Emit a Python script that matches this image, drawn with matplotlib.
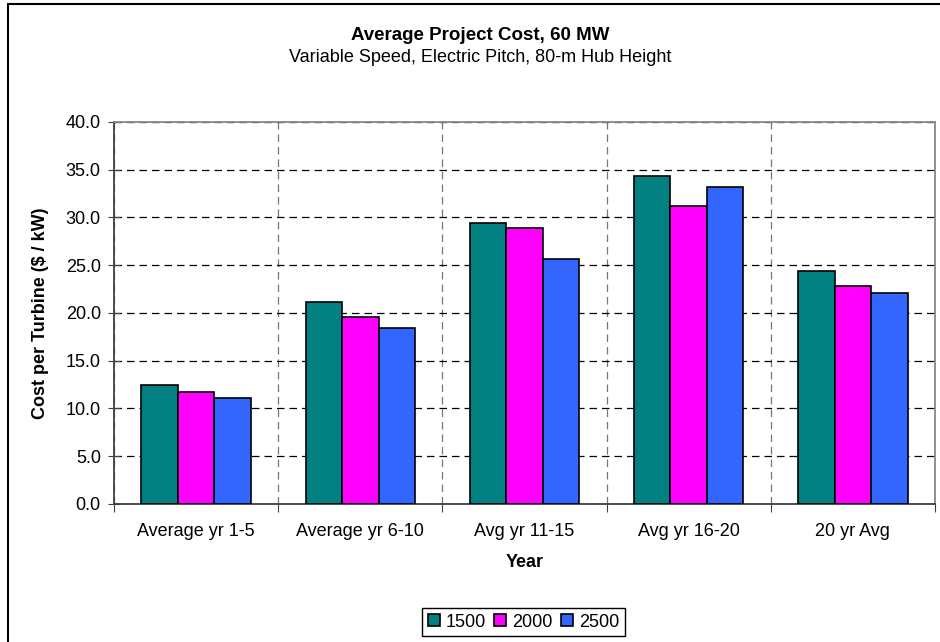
import numpy as np
import matplotlib
matplotlib.use('Agg')
import matplotlib.pyplot as plt
from matplotlib.patches import Rectangle

plt.rcParams['font.family'] = ['Liberation Sans', 'DejaVu Sans']

# Data
categories = ['Average yr 1-5', 'Average yr 6-10', 'Avg yr 11-15', 'Avg yr 16-20', '20 yr Avg']
series_names = ['1500', '2000', '2500']
cost_1500 = [12.5, 21.2, 29.4, 34.3, 24.4]
cost_2000 = [11.7, 19.6, 28.9, 31.2, 22.8]
cost_2500 = [11.1, 18.4, 25.6, 33.2, 22.1]
colors = ['#008080', '#FF00FF', '#3366FF']

fig = plt.figure(figsize=(9.4, 6.42), dpi=100)
ax = fig.add_axes([0.1213, 0.2150, 0.8734, 0.5950])

x = np.arange(len(categories))
w = 1 / 4.5
for i, (vals, name) in enumerate(zip([cost_1500, cost_2000, cost_2500], series_names)):
    ax.bar(x + (i - 1) * w, vals, width=w, color=colors[i], edgecolor='black',
           linewidth=1.2, label=name, zorder=3)

ax.set_xlim(-0.5, len(categories) - 0.5)
ax.set_ylim(0, 40)
ax.set_yticks(np.arange(0, 41, 5))
ax.set_yticklabels(['%.1f' % v for v in np.arange(0, 41, 5)])

# category boundaries as major ticks, labels at centres
ax.set_xticks(np.arange(-0.5, len(categories), 1))
ax.set_xticklabels([])
ax.set_xticks(x, minor=True)
ax.set_xticklabels(categories, minor=True)
ax.tick_params(axis='x', which='minor', length=0, pad=14, labelsize=13)
ax.tick_params(axis='x', which='major', direction='out', length=6, color='#404040')
ax.tick_params(axis='y', direction='inout', length=9, color='#404040', labelsize=13, pad=5)

ax.yaxis.grid(True, linestyle=(0, (6, 4)), color='black', linewidth=0.9, zorder=0)
ax.xaxis.grid(True, which='major', linestyle=(0, (6, 4)), color='#777777', linewidth=0.9, zorder=0)

for s in ['left', 'bottom']:
    ax.spines[s].set_color('#404040')
    ax.spines[s].set_linewidth(1.3)
for s in ['top', 'right']:
    ax.spines[s].set_color('#888888')
    ax.spines[s].set_linewidth(1.3)

ax.set_ylabel('Cost per Turbine ($ / kW)', fontsize=13, fontweight='bold', labelpad=12)
ax.set_xlabel('Year', fontsize=13, fontweight='bold', labelpad=10)

fig.text(480 / 940, 1 - 35 / 642, 'Average Project Cost, 60 MW', ha='center', va='center',
         fontsize=13.5, fontweight='bold')
fig.text(480 / 940, 1 - 58 / 642, 'Variable Speed, Electric Pitch, 80-m Hub Height',
         ha='center', va='center', fontsize=13)

leg = fig.legend(loc='lower center', bbox_to_anchor=(523.5 / 940, 6 / 642), ncol=3,
                 fontsize=13, fancybox=False, edgecolor='black', framealpha=1,
                 handlelength=0.65, handleheight=0.65, handletextpad=0.35,
                 columnspacing=0.45, borderpad=0.3, borderaxespad=0)
leg.get_frame().set_linewidth(1.0)

# chart area border
fig.patches.append(Rectangle((8 / 940, -0.1), 1.2, 1.1 - 4 / 642, transform=fig.transFigure,
                             fill=False, edgecolor='black', linewidth=1.5))

fig.savefig('out.png', dpi=100)
